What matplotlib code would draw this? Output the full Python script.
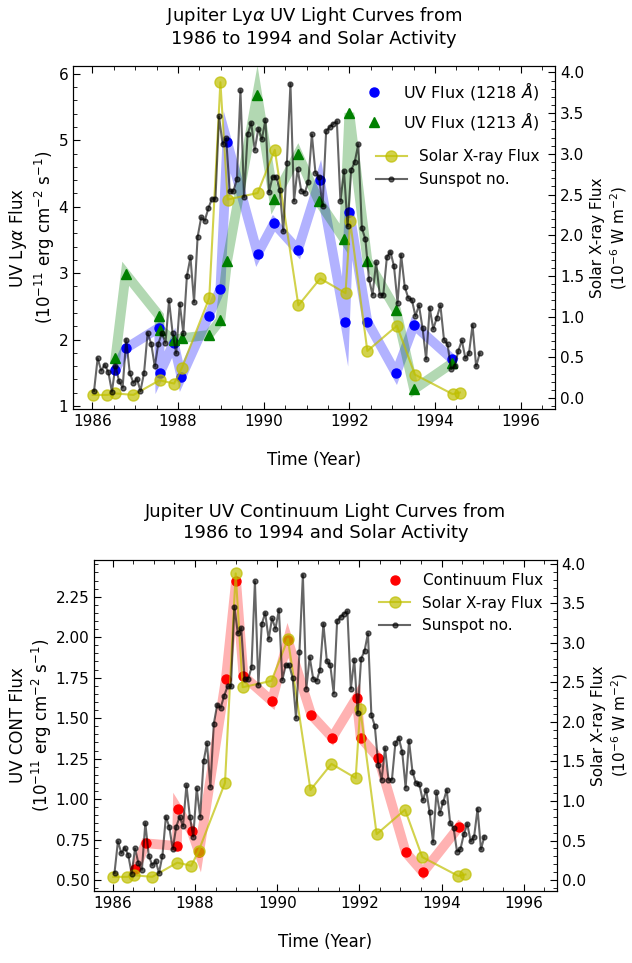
import numpy as np
import matplotlib.pyplot as plt
from matplotlib.ticker import MultipleLocator

# ---- UV Lyman-alpha (1218 A) ----
t_1218 = [1986.54, 1986.79, 1987.56, 1987.58, 1987.90, 1988.08, 1988.72, 1988.99, 1989.15,
          1989.86, 1990.24, 1990.80, 1991.31, 1991.90, 1992.00, 1992.42, 1993.09, 1993.51, 1994.39]
uv_1218 = [1.54, 1.87, 2.18, 1.50, 1.95, 1.44, 2.36, 2.76, 4.97,
           3.29, 3.75, 3.35, 4.40, 2.27, 3.92, 2.27, 1.49, 2.22, 1.71]

# ---- UV Lyman-alpha (1213 A) ----
t_1213 = [1986.54, 1986.78, 1987.56, 1987.58, 1987.90, 1988.09, 1988.72, 1988.99, 1989.15,
          1989.85, 1990.24, 1990.80, 1991.29, 1991.87, 1992.00, 1992.42, 1993.09, 1993.51, 1994.39]
uv_1213 = [1.72, 2.99, 2.36, 2.15, 1.99, 2.02, 2.07, 2.29, 3.19,
           5.69, 4.11, 4.79, 4.08, 3.52, 5.41, 3.19, 2.45, 1.25, 1.64]

# ---- UV continuum ----
t_cont = [1986.55, 1986.80, 1987.56, 1987.58, 1987.92, 1988.10, 1988.75, 1989.00, 1989.18,
          1989.87, 1990.26, 1990.83, 1991.34, 1991.93, 1992.03, 1992.46, 1993.13, 1993.55, 1994.43]
cont = [0.566, 0.727, 0.71, 0.938, 0.80, 0.67, 1.74, 2.35, 1.76,
        1.605, 1.98, 1.52, 1.38, 1.625, 1.38, 1.255, 0.67, 0.547, 0.83]

# ---- solar X-ray flux (1e-6 W m^-2) ----
t_xray = [1986.01, 1986.35, 1986.52, 1986.96, 1987.57, 1987.91, 1988.09, 1988.73, 1988.99,
          1989.16, 1989.86, 1990.26, 1990.81, 1991.32, 1991.91, 1992.02, 1992.42, 1993.11,
          1993.53, 1994.41, 1994.58]
xray = [0.04, 0.04, 0.06, 0.04, 0.22, 0.18, 0.37, 1.23, 3.88,
        2.44, 2.52, 3.05, 1.14, 1.47, 1.29, 2.17, 0.58, 0.89,
        0.29, 0.05, 0.07]

# ---- monthly sunspot number (scaled to right axis), Jan 1986 - Jan 1995 ----
ss_start = 1986
sunspot = [0.09, 0.49, 0.34, 0.41, 0.32, 0.08, 0.40, 0.21, 0.13, 0.72, 0.31, 0.19,
           0.24, 0.09, 0.31, 0.80, 0.67, 0.39, 0.67, 0.80, 0.68, 1.20, 0.80, 0.55,
           1.16, 0.80, 1.50, 1.73, 1.18, 1.98, 2.22, 2.18, 2.33, 2.45, 2.45, 3.46,
           3.12, 3.19, 2.54, 2.54, 2.69, 3.78, 2.47, 3.24, 3.38, 3.05, 3.31, 3.18,
           3.42, 2.53, 2.72, 2.72, 2.56, 2.05, 2.89, 3.86, 2.42, 2.82, 2.55, 2.52,
           2.66, 3.24, 2.77, 2.72, 2.36, 3.28, 3.33, 3.37, 3.40, 2.42, 2.79, 2.11,
           2.80, 2.90, 3.12, 2.09, 1.95, 1.46, 1.27, 1.67, 1.27, 1.27, 1.73, 1.80,
           1.62, 1.17, 1.76, 1.37, 1.23, 1.21, 1.01, 1.14, 0.86, 0.48, 1.11, 0.85,
           0.99, 1.14, 0.72, 0.66, 0.36, 0.39, 0.58, 0.71, 0.49, 0.55, 0.90, 0.39,
           0.55]
t_ss = ss_start + (np.arange(len(sunspot)) + 0.5) / 12.0


def style_axes(ax, ax2, ymaj, ymin):
    ax.set_xlim(1985.55, 1996.8)
    ax.xaxis.set_major_locator(MultipleLocator(2))
    ax.xaxis.set_minor_locator(MultipleLocator(0.5))
    ax.yaxis.set_major_locator(MultipleLocator(ymaj))
    ax.yaxis.set_minor_locator(MultipleLocator(ymin))
    ax.tick_params(which='both', direction='in', top=True, labelsize=11)
    ax.tick_params(which='major', length=5)
    ax.tick_params(which='minor', length=3)
    ax2.yaxis.set_major_locator(MultipleLocator(0.5))
    ax2.yaxis.set_minor_locator(MultipleLocator(0.1))
    ax2.tick_params(which='both', direction='in', labelsize=11)
    ax2.tick_params(which='major', length=5)
    ax2.tick_params(which='minor', length=3)
    ax2.set_ylabel('Solar X-ray Flux\n($10^{-6}$ W m$^{-2}$)', fontsize=11)
    ax.set_xlabel('Time (Year)', fontsize=12, labelpad=16)


def solar(ax2):
    ax2.plot(t_xray, xray, 'o-', color='y', alpha=0.7, ms=8, lw=1.5, label='Solar X-ray Flux')
    ax2.plot(t_ss, sunspot, '.-', color='k', alpha=0.6, ms=7, lw=1.5, label='Sunspot no.')


fig = plt.figure(figsize=(6.32, 9.63), dpi=100)

# ============ top: Lyman alpha ============
ax1 = fig.add_axes([0.1155, 0.575, 0.7627, 0.3565])
ax1.plot(t_1218, uv_1218, '-', color='b', lw=7, alpha=0.3, solid_joinstyle='miter')
ax1.plot(t_1213, uv_1213, '-', color='g', lw=7, alpha=0.3, solid_joinstyle='miter')
ax1.plot(t_1218, uv_1218, 'o', color='b', ms=6.5, label=r'UV Flux (1218 $\AA$)')
ax1.plot(t_1213, uv_1213, '^', color='g', ms=7, label=r'UV Flux (1213 $\AA$)')
ax1.set_ylim(0.95, 6.12)
ax1.set_ylabel('UV Ly$\\alpha$ Flux\n($10^{-11}$ erg cm$^{-2}$ s$^{-1}$)', fontsize=12,
               labelpad=1)
ax1.set_title('Jupiter Ly$\\alpha$ UV Light Curves from\n1986 to 1994 and Solar Activity',
              fontsize=13, pad=16)
ax1.legend(loc='upper right', bbox_to_anchor=(0.98, 0.977), borderaxespad=0,
           frameon=False, fontsize=11.5)

ax1b = ax1.twinx()
solar(ax1b)
ax1b.set_ylim(-0.136, 4.08)
style_axes(ax1, ax1b, 1, 0.2)
ax1b.legend(loc='upper right', bbox_to_anchor=(0.98, 0.775), borderaxespad=0,
            frameon=False, fontsize=11)

# ============ bottom: continuum ============
ax2 = fig.add_axes([0.1492, 0.0751, 0.7316, 0.3434])
ax2.plot(t_cont, cont, '-', color='r', lw=7, alpha=0.3, solid_joinstyle='miter')
ax2.plot(t_cont, cont, 'o', color='r', ms=6.5, label='Continuum Flux')
ax2.set_ylim(0.434, 2.477)
ax2.set_ylabel('UV CONT Flux\n($10^{-11}$ erg cm$^{-2}$ s$^{-1}$)', fontsize=12,
               labelpad=1)
ax2.set_title('Jupiter UV Continuum Light Curves from\n1986 to 1994 and Solar Activity',
              fontsize=13, pad=16)
ax2.legend(loc='upper right', bbox_to_anchor=(0.983, 0.978), borderaxespad=0,
           frameon=False, fontsize=11)

ax2b = ax2.twinx()
solar(ax2b)
ax2b.set_ylim(-0.135, 4.05)
style_axes(ax2, ax2b, 0.25, 0.05)
ax2b.legend(loc='upper right', bbox_to_anchor=(0.983, 0.911), borderaxespad=0,
            frameon=False, fontsize=11)

fig.savefig('out.png', dpi=100)
